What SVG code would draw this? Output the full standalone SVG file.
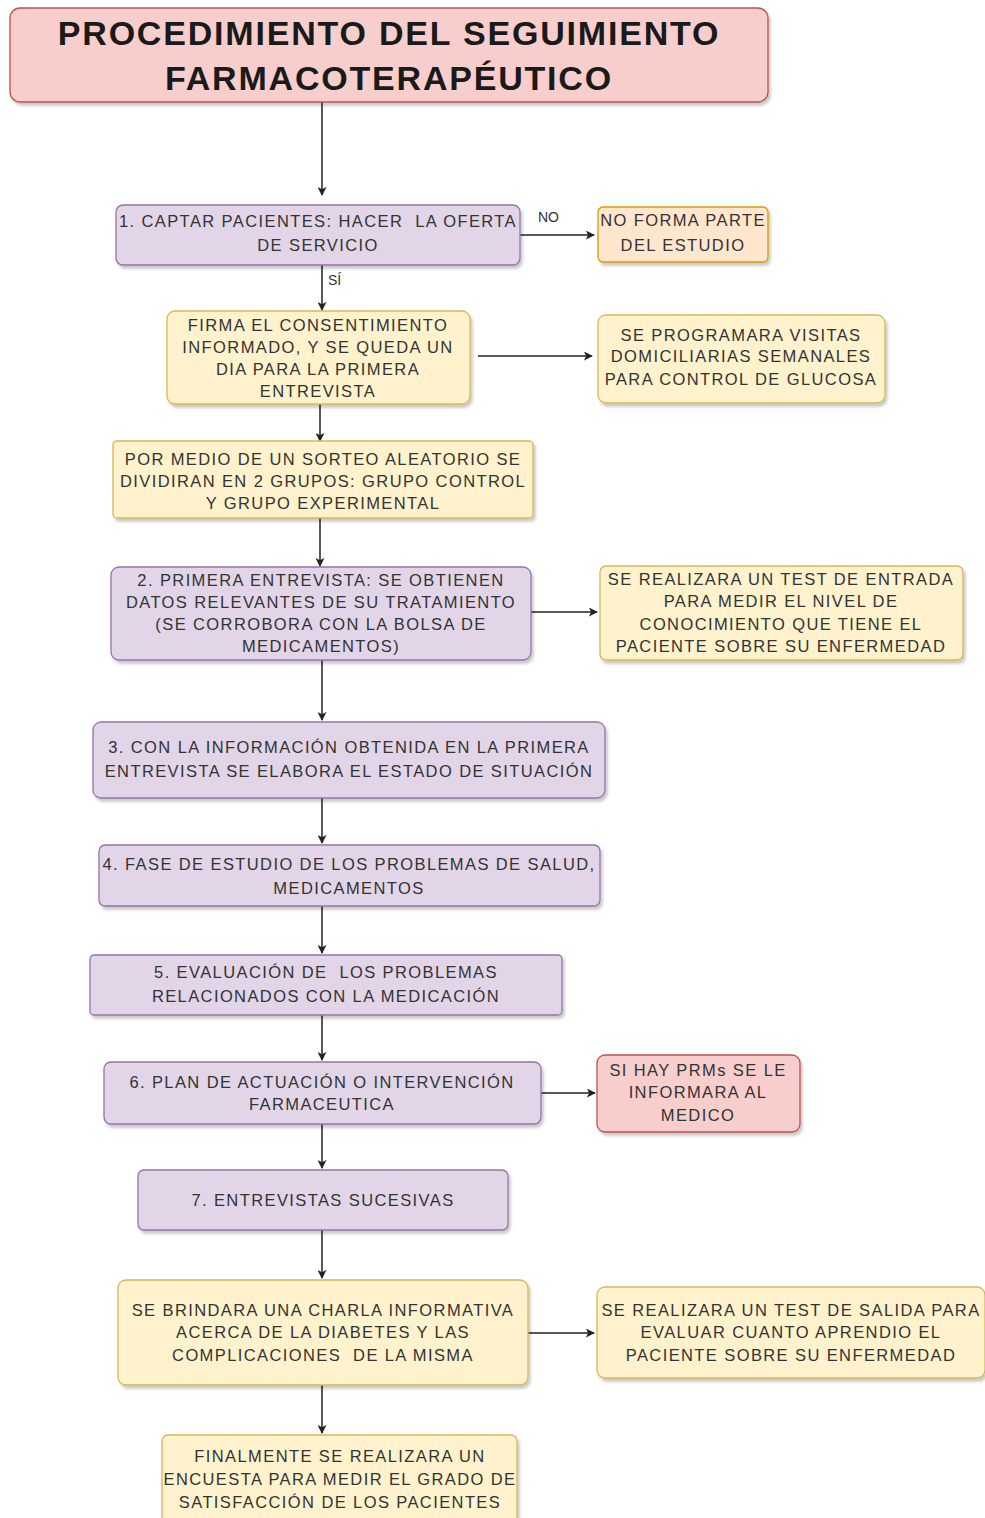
<svg xmlns="http://www.w3.org/2000/svg" width="985" height="1518" viewBox="0 0 985 1518">
  <defs>
    <filter id="shadow" x="-5%" y="-10%" width="115%" height="130%">
      <feDropShadow dx="2" dy="3" stdDeviation="1.5" flood-color="#000" flood-opacity="0.22"/>
    </filter>
    <marker id="arrow" viewBox="0 0 10 10" refX="9" refY="5" markerWidth="9" markerHeight="9" markerUnits="userSpaceOnUse" orient="auto">
      <path d="M0,0 L10,5 L0,10 L2.5,5 Z" fill="#222"/>
    </marker>
    <style>
      .box { stroke-width: 1.3; filter: url(#shadow); }
      .pink { fill: #f8cecc; stroke: #b85450; }
      .purple { fill: #e1d5e7; stroke: #9673a6; }
      .yellow { fill: #fff2cc; stroke: #d6b656; }
      .orange { fill: #ffe6cc; stroke: #d79b00; }
      .t { font-family: "Liberation Sans", Arial, sans-serif; font-size: 16.5px; fill: #333; text-anchor: middle; letter-spacing: 1.4px; white-space: pre; }
      .title { font-family: "Liberation Sans", Arial, sans-serif; font-weight: bold; font-size: 34px; fill: #1a1a1a; text-anchor: middle; letter-spacing: 1.8px; }
      .lbl { font-family: "Liberation Sans", Arial, sans-serif; font-size: 14px; fill: #333; }
      .edge { stroke: #222; stroke-width: 1.5; fill: none; marker-end: url(#arrow); }
    </style>
  </defs>
  <rect width="985" height="1518" fill="#fff"/>

  <!-- connectors -->
  <g id="connectors">
    <path class="edge" d="M322,102 V195"/>
    <path class="edge" d="M520,235 H594"/>
    <path class="edge" d="M322,265 V310"/>
    <path class="edge" d="M478,356 H592"/>
    <path class="edge" d="M320,404 V441"/>
    <path class="edge" d="M320,518 V566"/>
    <path class="edge" d="M531,612 H597"/>
    <path class="edge" d="M322,660 V720"/>
    <path class="edge" d="M322,798 V843"/>
    <path class="edge" d="M322,906 V953"/>
    <path class="edge" d="M322,1015 V1060"/>
    <path class="edge" d="M541,1093 H595"/>
    <path class="edge" d="M322,1124 V1168"/>
    <path class="edge" d="M322,1230 V1278"/>
    <path class="edge" d="M528,1333 H594"/>
    <path class="edge" d="M322,1385 V1433"/>
    <text class="lbl" x="538" y="222">NO</text>
    <text class="lbl" x="328" y="285">SÍ</text>
  </g>

  <g id="title">
    <rect class="box pink" x="10" y="8" width="758" height="94" rx="10"/>
    <text class="title" x="389" y="45">PROCEDIMIENTO DEL SEGUIMIENTO</text>
    <text class="title" x="389" y="90">FARMACOTERAPÉUTICO</text>
  </g>

  <g id="step1">
    <rect class="box purple" x="116" y="205" width="404" height="60" rx="7"/>
    <text class="t" x="318" y="227">1. CAPTAR PACIENTES: HACER  LA OFERTA</text>
    <text class="t" x="318" y="251">DE SERVICIO</text>
  </g>

  <g id="no-forma-parte">
    <rect class="box orange" x="598" y="207" width="170" height="55" rx="5"/>
    <text class="t" x="683" y="226">NO FORMA PARTE</text>
    <text class="t" x="683" y="251">DEL ESTUDIO</text>
  </g>

  <g id="consentimiento">
    <rect class="box yellow" x="167" y="311" width="303" height="93" rx="8"/>
    <text class="t" x="318" y="331">FIRMA EL CONSENTIMIENTO</text>
    <text class="t" x="318" y="353">INFORMADO, Y SE QUEDA UN</text>
    <text class="t" x="318" y="375">DIA PARA LA PRIMERA</text>
    <text class="t" x="318" y="397">ENTREVISTA</text>
  </g>

  <g id="visitas">
    <rect class="box yellow" x="598" y="315" width="287" height="88" rx="8"/>
    <text class="t" x="741" y="341">SE PROGRAMARA VISITAS</text>
    <text class="t" x="741" y="362">DOMICILIARIAS SEMANALES</text>
    <text class="t" x="741" y="385">PARA CONTROL DE GLUCOSA</text>
  </g>

  <g id="sorteo">
    <rect class="box yellow" x="113" y="441" width="420" height="77" rx="4"/>
    <text class="t" x="323" y="465">POR MEDIO DE UN SORTEO ALEATORIO SE</text>
    <text class="t" x="323" y="487">DIVIDIRAN EN 2 GRUPOS: GRUPO CONTROL</text>
    <text class="t" x="323" y="509">Y GRUPO EXPERIMENTAL</text>
  </g>

  <g id="step2">
    <rect class="box purple" x="111" y="567" width="420" height="93" rx="8"/>
    <text class="t" x="321" y="586">2. PRIMERA ENTREVISTA: SE OBTIENEN</text>
    <text class="t" x="321" y="608">DATOS RELEVANTES DE SU TRATAMIENTO</text>
    <text class="t" x="321" y="630">(SE CORROBORA CON LA BOLSA DE</text>
    <text class="t" x="321" y="652">MEDICAMENTOS)</text>
  </g>

  <g id="test-entrada">
    <rect class="box yellow" x="600" y="566" width="363" height="94" rx="6"/>
    <text class="t" x="781" y="585">SE REALIZARA UN TEST DE ENTRADA</text>
    <text class="t" x="781" y="607">PARA MEDIR EL NIVEL DE</text>
    <text class="t" x="781" y="630">CONOCIMIENTO QUE TIENE EL</text>
    <text class="t" x="781" y="652">PACIENTE SOBRE SU ENFERMEDAD</text>
  </g>

  <g id="step3">
    <rect class="box purple" x="93" y="722" width="512" height="76" rx="8"/>
    <text class="t" x="349" y="753">3. CON LA INFORMACIÓN OBTENIDA EN LA PRIMERA</text>
    <text class="t" x="349" y="777">ENTREVISTA SE ELABORA EL ESTADO DE SITUACIÓN</text>
  </g>

  <g id="step4">
    <rect class="box purple" x="99" y="845" width="501" height="61" rx="6"/>
    <text class="t" x="349" y="870">4. FASE DE ESTUDIO DE LOS PROBLEMAS DE SALUD,</text>
    <text class="t" x="349" y="894">MEDICAMENTOS</text>
  </g>

  <g id="step5">
    <rect class="box purple" x="90" y="955" width="472" height="60" rx="4"/>
    <text class="t" x="326" y="978">5. EVALUACIÓN DE  LOS PROBLEMAS</text>
    <text class="t" x="326" y="1002">RELACIONADOS CON LA MEDICACIÓN</text>
  </g>

  <g id="step6">
    <rect class="box purple" x="104" y="1062" width="437" height="62" rx="7"/>
    <text class="t" x="322" y="1088">6. PLAN DE ACTUACIÓN O INTERVENCIÓN</text>
    <text class="t" x="322" y="1110">FARMACEUTICA</text>
  </g>

  <g id="prms">
    <rect class="box pink" x="597" y="1055" width="203" height="77" rx="8"/>
    <text class="t" x="698" y="1076">SI HAY PRMs SE LE</text>
    <text class="t" x="698" y="1098">INFORMARA AL</text>
    <text class="t" x="698" y="1121">MEDICO</text>
  </g>

  <g id="step7">
    <rect class="box purple" x="138" y="1170" width="370" height="60" rx="6"/>
    <text class="t" x="323" y="1206">7. ENTREVISTAS SUCESIVAS</text>
  </g>

  <g id="charla">
    <rect class="box yellow" x="118" y="1280" width="410" height="105" rx="8"/>
    <text class="t" x="323" y="1316">SE BRINDARA UNA CHARLA INFORMATIVA</text>
    <text class="t" x="323" y="1338">ACERCA DE LA DIABETES Y LAS</text>
    <text class="t" x="323" y="1361">COMPLICACIONES  DE LA MISMA</text>
  </g>

  <g id="test-salida">
    <rect class="box yellow" x="597" y="1287" width="388" height="91" rx="8"/>
    <text class="t" x="791" y="1316">SE REALIZARA UN TEST DE SALIDA PARA</text>
    <text class="t" x="791" y="1338">EVALUAR CUANTO APRENDIO EL</text>
    <text class="t" x="791" y="1361">PACIENTE SOBRE SU ENFERMEDAD</text>
  </g>

  <g id="encuesta">
    <rect class="box yellow" x="162" y="1435" width="355" height="95" rx="6"/>
    <text class="t" x="340" y="1462">FINALMENTE SE REALIZARA UN</text>
    <text class="t" x="340" y="1485">ENCUESTA PARA MEDIR EL GRADO DE</text>
    <text class="t" x="340" y="1508">SATISFACCIÓN DE LOS PACIENTES</text>
  </g>
</svg>
